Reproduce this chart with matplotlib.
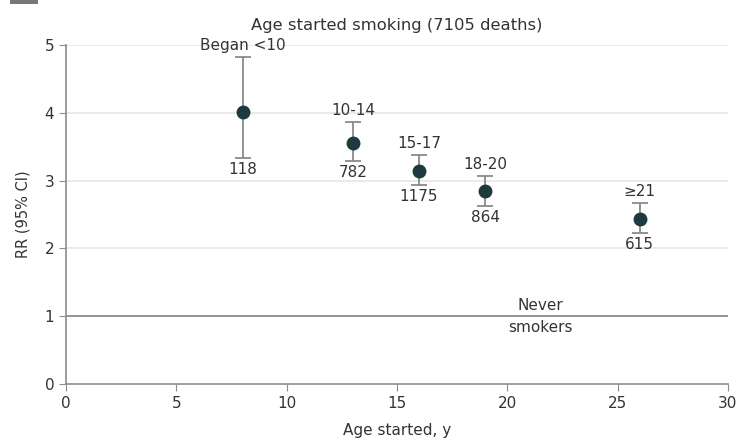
import matplotlib
matplotlib.use("Agg")
import matplotlib.pyplot as plt
from matplotlib.patches import Rectangle

# data
ages = [8, 13, 16, 19, 26]
rr = [4.01, 3.56, 3.14, 2.85, 2.43]
ci_lo = [3.33, 3.29, 2.94, 2.63, 2.23]
ci_hi = [4.82, 3.86, 3.38, 3.07, 2.67]
group_labels = ["Began <10", "10-14", "15-17", "18-20", "\u226521"]
deaths = ["118", "782", "1175", "864", "615"]

plt.rcParams["font.family"] = ["DejaVu Sans"]
TXT = "#333333"

fig = plt.figure(figsize=(7.42, 4.42), dpi=100)
ax = fig.add_axes([0.089, 0.131, 0.892, 0.767])

# cut-off panel tag at the top-left corner
fig.patches.append(Rectangle((0.014, 0.992), 0.037, 0.01, transform=fig.transFigure,
                             facecolor="#777777", edgecolor="none"))

for y in [2, 3, 4, 5]:
    ax.axhline(y, color="#e6e6e6", lw=1.2, zorder=0)
ax.axhline(1, color="#8c8c8c", lw=1.3, zorder=1)

yerr = [[r - lo for r, lo in zip(rr, ci_lo)], [hi - r for r, hi in zip(rr, ci_hi)]]
ax.errorbar(ages, rr, yerr=yerr, fmt="o", color="#1c3a40", ms=9,
            ecolor="#8a8a8a", elinewidth=1.3, capsize=6, capthick=1.3, zorder=3)

for x, hi, lo, g, d in zip(ages, ci_hi, ci_lo, group_labels, deaths):
    ax.annotate(g, (x, hi), xytext=(0, 3), textcoords="offset points",
                ha="center", va="bottom", fontsize=11, color=TXT)
    ax.annotate(d, (x, lo), xytext=(0, -3), textcoords="offset points",
                ha="center", va="top", fontsize=11, color=TXT)

ax.text(21.5, 1.05, "Never", ha="center", va="bottom", fontsize=11, color=TXT)
ax.text(21.5, 0.95, "smokers", ha="center", va="top", fontsize=11, color=TXT)

ax.set_xlim(0, 30)
ax.set_ylim(0, 5)
ax.set_xticks(range(0, 31, 5))
ax.set_yticks(range(0, 6))
for s in ["top", "right"]:
    ax.spines[s].set_visible(False)
for s in ["left", "bottom"]:
    ax.spines[s].set_color("#8c8c8c")
    ax.spines[s].set_linewidth(1.2)
ax.tick_params(colors="#8c8c8c", labelcolor=TXT, labelsize=11, length=5)
ax.set_xlabel("Age started, y", fontsize=11, color=TXT, labelpad=9)
ax.set_ylabel("RR (95% CI)", fontsize=10.5, color=TXT, labelpad=10)
ax.set_title("Age started smoking (7105 deaths)", fontsize=11.8, color=TXT, pad=11)

fig.savefig("out.png", dpi=100)
